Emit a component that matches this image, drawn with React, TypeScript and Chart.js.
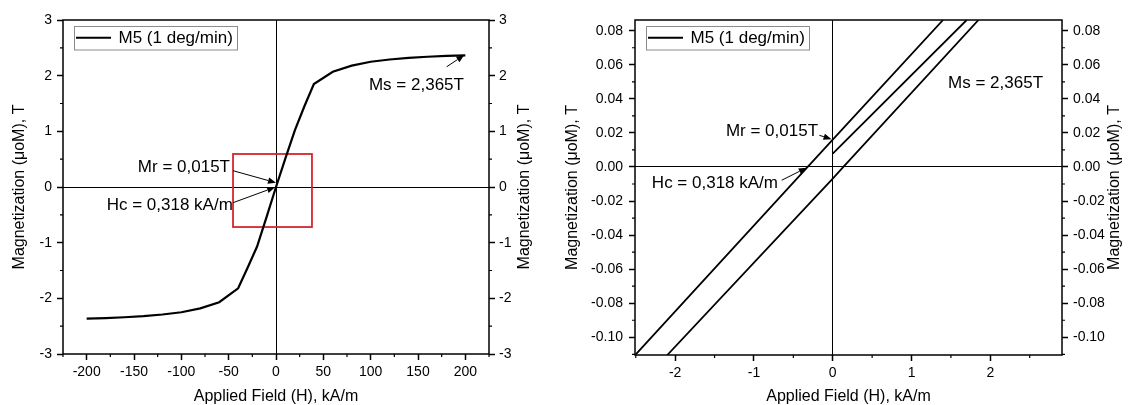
import { useEffect, useRef } from 'react';
import { Chart, registerables } from 'chart.js';

Chart.register(...registerables);

const FONT = '"Liberation Sans", Arial, Helvetica, sans-serif';
const INK = '#000';

const legendLabel = 'M5 (1 deg/min)';
const xAxisTitle = 'Applied Field (H), kA/m';
const yAxisTitle = 'Magnetization (μoM), T';

// Full hysteresis loop (left panel)
const loopField = [-200, -180, -160, -140, -120, -100, -80, -60, -40, -30, -20, -10, 0, 10, 20, 30, 40, 60, 80, 100, 120, 140, 160, 180, 200];
const loopMagnetization = [-2.365, -2.355, -2.34, -2.32, -2.29, -2.25, -2.18, -2.07, -1.82, -1.45, -1.07, -0.54, 0, 0.52, 1.02, 1.45, 1.85, 2.07, 2.18, 2.25, 2.29, 2.32, 2.34, 2.355, 2.365];

// Zoomed loop branches (right panel)
const descendingField = [-2.5, -0.318, 0, 1.4];
const descendingMagnetization = [-0.11, 0, 0.016, 0.0863];
const ascendingField = [-2.1, 0, 0.135, 1.85];
const ascendingMagnetization = [-0.1104, -0.0068, 0, 0.0863];
const initialField = [0, 1.7];
const initialMagnetization = [0.0078, 0.0863];

// Tick labels
const loopXTicks = [-200, -150, -100, -50, 0, 50, 100, 150, 200];
const loopYTicks = [-3, -2, -1, 0, 1, 2, 3];
const zoomXTicks = [-2, -1, 0, 1, 2];
const zoomYTicks = [-0.1, -0.08, -0.06, -0.04, -0.02, 0, 0.02, 0.04, 0.06, 0.08];

type Note = {
  text: string;
  x: number;
  y: number;
  align: CanvasTextAlign;
  arrow?: [number, number, number, number];
};

const loopNotes: Note[] = [
  { text: 'Mr = 0,015T', x: -48.6, y: 0.36, align: 'right', arrow: [-45.4, 0.293, 0, 0.077] },
  { text: 'Hc = 0,318 kA/m', x: -45.6, y: -0.323, align: 'right', arrow: [-45.4, -0.282, -1.0, -0.005] },
  { text: 'Ms = 2,365T', x: 98.2, y: 1.83, align: 'left', arrow: [180.3, 2.16, 198.9, 2.37] },
];

const zoomNotes: Note[] = [
  { text: 'Mr = 0,015T', x: -0.187, y: 0.0211, align: 'right', arrow: [-0.17, 0.0186, -0.015, 0.0163] },
  { text: 'Hc = 0,318 kA/m', x: -0.695, y: -0.0094, align: 'right', arrow: [-0.648, -0.0078, -0.33, -0.0004] },
  { text: 'Ms = 2,365T', x: 1.464, y: 0.0489, align: 'left' },
];

const loopHighlight = { x0: -45.4, x1: 38, y0: -0.719, y1: 0.593 };

type Panel = {
  width: number;
  height: number;
  series: { h: number[]; m: number[] }[];
  lineWidth: number;
  xMin: number; xMax: number; yMin: number; yMax: number;
  xTicks: number[]; yTicks: number[];
  xMinorStep: number; yMinorStep: number;
  yDecimals: number;
  yWidth: number; y2Width: number; xHeight: number;
  yPad: number; y2Pad: number; yTitlePad: number; rightTitleX: number;
  notes: Note[];
  box?: { x0: number; x1: number; y0: number; y1: number };
};

function drawArrow(ctx: CanvasRenderingContext2D, x1: number, y1: number, x2: number, y2: number) {
  const ang = Math.atan2(y2 - y1, x2 - x1);
  const len = 8, half = 3.2;
  const bx = x2 - len * Math.cos(ang), by = y2 - len * Math.sin(ang);
  ctx.beginPath();
  ctx.moveTo(x1, y1);
  ctx.lineTo(bx, by);
  ctx.stroke();
  ctx.beginPath();
  ctx.moveTo(x2, y2);
  ctx.lineTo(bx + half * Math.sin(ang), by - half * Math.cos(ang));
  ctx.lineTo(bx - half * Math.sin(ang), by + half * Math.cos(ang));
  ctx.closePath();
  ctx.fill();
}

function makeDecor(p: Panel) {
  return {
    id: 'decor',
    beforeDatasetsDraw(chart: any) {
      if (!p.box) return;
      const { ctx } = chart;
      const sx = chart.scales.x, sy = chart.scales.y;
      const l = sx.getPixelForValue(p.box.x0), r = sx.getPixelForValue(p.box.x1);
      const t = sy.getPixelForValue(p.box.y1), b = sy.getPixelForValue(p.box.y0);
      ctx.save();
      ctx.strokeStyle = '#d4262c';
      ctx.lineWidth = 1.8;
      ctx.strokeRect(l, t, r - l, b - t);
      ctx.restore();
    },
    afterDatasetsDraw(chart: any) {
      const { ctx, chartArea: a } = chart;
      const sx = chart.scales.x, sy = chart.scales.y;
      ctx.save();
      // frame
      ctx.strokeStyle = INK;
      ctx.lineWidth = 1.5;
      ctx.strokeRect(a.left, a.top, a.right - a.left, a.bottom - a.top);
      // minor ticks
      ctx.lineWidth = 1.2;
      ctx.beginPath();
      const isMajor = (v: number, arr: number[], step: number) => arr.some((t) => Math.abs(t - v) < step * 1e-3);
      for (let k = Math.ceil(p.xMin / p.xMinorStep); k * p.xMinorStep <= p.xMax; k++) {
        const v = k * p.xMinorStep;
        if (isMajor(v, p.xTicks, p.xMinorStep)) continue;
        const px = sx.getPixelForValue(v);
        ctx.moveTo(px, a.bottom);
        ctx.lineTo(px, a.bottom + 3);
      }
      for (let k = Math.ceil(p.yMin / p.yMinorStep - 1e-6); k * p.yMinorStep <= p.yMax + 1e-9; k++) {
        const v = k * p.yMinorStep;
        if (isMajor(v, p.yTicks, p.yMinorStep)) continue;
        const py = sy.getPixelForValue(v);
        ctx.moveTo(a.left - 3, py);
        ctx.lineTo(a.left, py);
        ctx.moveTo(a.right, py);
        ctx.lineTo(a.right + 3, py);
      }
      ctx.stroke();
      // legend
      const lx = a.left + 11, ly = a.top + 5.5, lw = 163, lh = 23.5;
      ctx.strokeStyle = '#8c8c8c';
      ctx.lineWidth = 1;
      ctx.strokeRect(Math.round(lx) + 0.5, Math.round(ly) + 0.5, lw, lh);
      ctx.strokeStyle = INK;
      ctx.lineWidth = 2;
      ctx.beginPath();
      ctx.moveTo(lx + 2, ly + lh / 2 + 0.5);
      ctx.lineTo(lx + 37, ly + lh / 2 + 0.5);
      ctx.stroke();
      ctx.fillStyle = INK;
      ctx.font = `17px ${FONT}`;
      ctx.textBaseline = 'middle';
      ctx.textAlign = 'left';
      ctx.fillText(legendLabel, lx + 44.5, ly + lh / 2 + 1);
      // annotations
      ctx.lineWidth = 1;
      for (const n of p.notes) {
        ctx.textAlign = n.align;
        ctx.fillText(n.text, sx.getPixelForValue(n.x), sy.getPixelForValue(n.y));
        if (n.arrow) {
          const [ax1, ay1, ax2, ay2] = n.arrow;
          drawArrow(ctx, sx.getPixelForValue(ax1), sy.getPixelForValue(ay1), sx.getPixelForValue(ax2), sy.getPixelForValue(ay2));
        }
      }
      // right axis title (reads bottom-to-top)
      ctx.font = `16px ${FONT}`;
      ctx.textAlign = 'center';
      ctx.translate(p.rightTitleX, (a.top + a.bottom) / 2);
      ctx.rotate(-Math.PI / 2);
      ctx.fillText(yAxisTitle, 0, 0);
      ctx.restore();
    },
  };
}

function buildConfig(p: Panel): any {
  const zeroColor = (c: any) => (c.tick && Math.abs(c.tick.value) < 1e-9 ? INK : 'rgba(0,0,0,0)');
  const tickFont = { family: FONT, size: 14 };
  const fmtY = (v: any) => Number(v).toFixed(p.yDecimals);
  const yBase = (pos: 'left' | 'right') => ({
    type: 'linear',
    position: pos,
    display: true,
    min: p.yMin,
    max: p.yMax,
    afterBuildTicks: (s: any) => {
      s.ticks = p.yTicks.map((v) => ({ value: v }));
    },
    afterFit: (s: any) => {
      s.width = pos === 'left' ? p.yWidth : p.y2Width;
    },
    border: { display: false },
    grid: {
      drawOnChartArea: pos === 'left',
      color: zeroColor,
      lineWidth: 1,
      tickColor: INK,
      tickWidth: 1.5,
      tickLength: 6,
      drawTicks: true,
    },
    ticks: {
      color: INK,
      font: tickFont,
      padding: pos === 'left' ? p.yPad : p.y2Pad,
      autoSkip: false,
      callback: fmtY,
    },
  });
  return {
    type: 'scatter',
    data: {
      datasets: p.series.map((s) => ({
        label: legendLabel,
        data: s.h.map((v, i) => ({ x: v, y: s.m[i] })),
        showLine: true,
        borderColor: INK,
        backgroundColor: INK,
        borderWidth: p.lineWidth,
        pointRadius: 0,
        tension: 0,
      })),
    },
    options: {
      responsive: false,
      animation: false,
      devicePixelRatio: 1,
      layout: { padding: { top: 20, left: 0, right: 0, bottom: 0 } },
      plugins: { legend: { display: false }, tooltip: { enabled: false } },
      scales: {
        x: {
          type: 'linear',
          position: 'bottom',
          min: p.xMin,
          max: p.xMax,
          afterBuildTicks: (s: any) => {
            s.ticks = p.xTicks.map((v) => ({ value: v }));
          },
          afterFit: (s: any) => {
            s.height = p.xHeight;
          },
          border: { display: false },
          grid: {
            drawOnChartArea: true,
            color: zeroColor,
            lineWidth: 1,
            tickColor: INK,
            tickWidth: 1.5,
            tickLength: 6,
            drawTicks: true,
          },
          ticks: { color: INK, font: tickFont, padding: 4, maxRotation: 0, autoSkip: false, callback: (v: any) => String(v) },
          title: {
            display: true,
            text: xAxisTitle,
            color: INK,
            font: { family: FONT, size: 16, lineHeight: 1 },
            padding: { top: 0, bottom: 0 },
          },
        },
        y: {
          ...yBase('left'),
          title: {
            display: true,
            text: yAxisTitle,
            color: INK,
            font: { family: FONT, size: 16, lineHeight: 1 },
            padding: { top: p.yTitlePad, bottom: 0 },
          },
        },
        y2: yBase('right'),
      },
    },
    plugins: [makeDecor(p)],
  };
}

const loopPanel: Panel = {
  width: 560,
  height: 405,
  series: [{ h: loopField, m: loopMagnetization }],
  lineWidth: 2.2,
  xMin: -225, xMax: 225, yMin: -3, yMax: 3,
  xTicks: loopXTicks, yTicks: loopYTicks,
  xMinorStep: 25, yMinorStep: 0.5,
  yDecimals: 0,
  yWidth: 63, y2Width: 71, xHeight: 51,
  yPad: 5, y2Pad: 4, yTitlePad: 11.5, rightTitleX: 524.5,
  notes: loopNotes,
  box: loopHighlight,
};

const zoomPanel: Panel = {
  width: 568,
  height: 405,
  series: [
    { h: descendingField, m: descendingMagnetization },
    { h: ascendingField, m: ascendingMagnetization },
    { h: initialField, m: initialMagnetization },
  ],
  lineWidth: 1.8,
  xMin: -2.51, xMax: 2.91, yMin: -0.1104, yMax: 0.0863,
  xTicks: zoomXTicks, yTicks: zoomYTicks,
  xMinorStep: 0.5, yMinorStep: 0.01,
  yDecimals: 2,
  yWidth: 75, y2Width: 66, xHeight: 50,
  yPad: 6, y2Pad: 5, yTitlePad: 4.5, rightTitleX: 554.5,
  notes: zoomNotes,
};

function PanelChart({ panel, left }: { panel: Panel; left: number }) {
  const ref = useRef<HTMLCanvasElement>(null);
  useEffect(() => {
    const chart = new Chart(ref.current as HTMLCanvasElement, buildConfig(panel));
    return () => chart.destroy();
  }, [panel]);
  return (
    <canvas
      ref={ref}
      width={panel.width}
      height={panel.height}
      style={{ position: 'absolute', left, top: 0, width: panel.width, height: panel.height, display: 'block' }}
    />
  );
}

export default function App() {
  return (
    <div style={{ position: 'absolute', left: 0, top: 0, width: 1128, height: 405, background: '#fff', overflow: 'hidden' }}>
      <PanelChart panel={loopPanel} left={0} />
      <PanelChart panel={zoomPanel} left={560} />
    </div>
  );
}
